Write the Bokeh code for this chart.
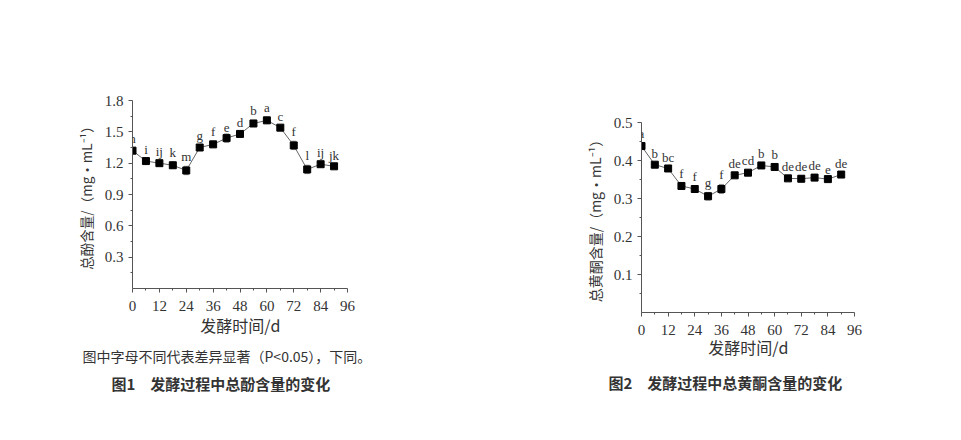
from bokeh.plotting import figure
from bokeh.layouts import row, column
from bokeh.models import (ColumnDataSource, Whisker, LabelSet, FixedTicker,
                          Range1d, TeeHead, Title)
from bokeh.embed import file_html
from bokeh.resources import INLINE

# ---------------- data ----------------
days = [0, 6, 12, 18, 24, 30, 36, 42, 48, 54, 60, 66, 72, 78, 84, 90]

phenol = [1.32, 1.22, 1.20, 1.18, 1.13, 1.35, 1.38, 1.44, 1.48, 1.58, 1.61, 1.54, 1.37, 1.14, 1.19, 1.17]
phenol_err = [0.03, 0.02, 0.02, 0.03, 0.04, 0.02, 0.03, 0.04, 0.02, 0.03, 0.03, 0.02, 0.04, 0.04, 0.02, 0.01]
phenol_letters = ["h", "i", "ij", "k", "m", "g", "f", "e", "d", "b", "a", "c", "f", "l", "ij", "jk"]

flav = [0.438, 0.389, 0.379, 0.333, 0.325, 0.306, 0.325, 0.361, 0.368, 0.387, 0.383, 0.353, 0.352, 0.355, 0.351, 0.363]
flav_err = [0.008, 0.004, 0.004, 0.007, 0.007, 0.010, 0.012, 0.005, 0.007, 0.006, 0.009, 0.005, 0.008, 0.008, 0.007, 0.003]
flav_letters = ["a", "b", "bc", "f", "f", "g", "f", "de", "cd", "b", "b", "de", "de", "de", "e", "de"]

x_ticks = [0, 12, 24, 36, 48, 60, 72, 84, 96]
x_minor = [6, 18, 30, 42, 54, 66, 78, 90]
y1_ticks = [0.3, 0.6, 0.9, 1.2, 1.5, 1.8]
y1_minor = [0.15, 0.45, 0.75, 1.05, 1.35, 1.65]
y2_ticks = [0.1, 0.2, 0.3, 0.4, 0.5]
y2_minor = [0.05, 0.15, 0.25, 0.35, 0.45]

x_label = "发酵时间/d"
y1_label = "总酚含量/（mg•mL⁻¹）"
y2_label = "总黄酮含量/（mg•mL⁻¹）"
note1 = "图中字母不同代表差异显著（P<0.05），下同。"
title1 = "图1　发酵过程中总酚含量的变化"
title2 = "图2　发酵过程中总黄酮含量的变化"

SERIF = "Liberation Serif"
CJK = "Noto Sans CJK SC"
TXT = "#333333"
AX = "#555555"


def make_chart(vals, errs, letters, yr, yt, ym, ylab, w, h, bl, br, bt, bb,
               xstand, ylab_size):
    p = figure(width=w, height=h,
               min_border_left=bl, min_border_right=br,
               min_border_top=bt, min_border_bottom=bb,
               x_range=Range1d(0, 96), y_range=Range1d(0, yr),
               output_backend="svg", toolbar_location=None)
    p.outline_line_color = None
    p.xgrid.visible = False
    p.ygrid.visible = False
    p.background_fill_color = "white"
    p.border_fill_color = "white"

    src = ColumnDataSource(dict(x=days, y=vals,
                                up=[v + e for v, e in zip(vals, errs)],
                                lo=[v - e for v, e in zip(vals, errs)],
                                lab=letters))
    p.line("x", "y", source=src, line_color="#666666", line_width=1)
    wk = Whisker(base="x", upper="up", lower="lo", source=src,
                 line_color="#888888", line_width=1,
                 upper_head=TeeHead(size=5, line_color="#888888"),
                 lower_head=TeeHead(size=5, line_color="#888888"))
    p.add_layout(wk)
    p.scatter("x", "y", source=src, marker="square", size=7,
              fill_color="black", line_color="black")
    ls = LabelSet(x="x", y="up", text="lab", source=src, y_offset=2,
                  text_align="center", text_baseline="bottom",
                  text_font=SERIF, text_font_size="13px", text_color=TXT)
    p.add_layout(ls)

    for ax in (p.xaxis[0], p.yaxis[0]):
        ax.axis_line_color = AX
        ax.major_tick_line_color = AX
        ax.minor_tick_line_color = AX
        ax.major_tick_in = 0
        ax.major_tick_out = 4
        ax.minor_tick_in = 0
        ax.minor_tick_out = 2
        ax.major_label_text_font = SERIF
        ax.major_label_text_font_size = "15px"
        ax.major_label_text_color = TXT
        ax.axis_label_text_font = CJK
        ax.axis_label_text_font_style = "normal"
        ax.axis_label_text_color = TXT
    p.xaxis.ticker = FixedTicker(ticks=x_ticks, minor_ticks=x_minor)
    p.yaxis.ticker = FixedTicker(ticks=yt, minor_ticks=ym)
    p.xaxis.major_label_standoff = 8
    p.xaxis.axis_label = x_label
    p.xaxis.axis_label_standoff = xstand
    p.xaxis.axis_label_text_font_size = "16px"
    p.yaxis.axis_label = ylab
    p.yaxis.axis_label_standoff = 6
    p.yaxis.axis_label_text_font_size = ylab_size
    return p


p1 = make_chart(phenol, phenol_err, phenol_letters, 1.8, y1_ticks, y1_minor, y1_label,
                481, 424, 132, 134, 100, 136, -1, "13.5px")
p2 = make_chart(flav, flav_err, flav_letters, 0.5, y2_ticks, y2_minor, y2_label,
                463, 424, 160, 90, 122, 112, -3, "14px")

p1.add_layout(Title(text=note1, align="left", offset=-50, standoff=9,
                    text_font=CJK, text_font_size="14px", text_font_style="normal",
                    text_color=TXT), "below")
p1.add_layout(Title(text=title1, align="left", offset=-21, standoff=0,
                    text_font=CJK, text_font_size="15px", text_font_style="bold",
                    text_color=TXT), "below")
p2.add_layout(Title(text=title2, align="left", offset=-33, standoff=17,
                    text_font=CJK, text_font_size="15px", text_font_style="bold",
                    text_color=TXT), "below")

layout = row(column(p1), column(p2))
open("out.html", "w").write(file_html(layout, INLINE))
